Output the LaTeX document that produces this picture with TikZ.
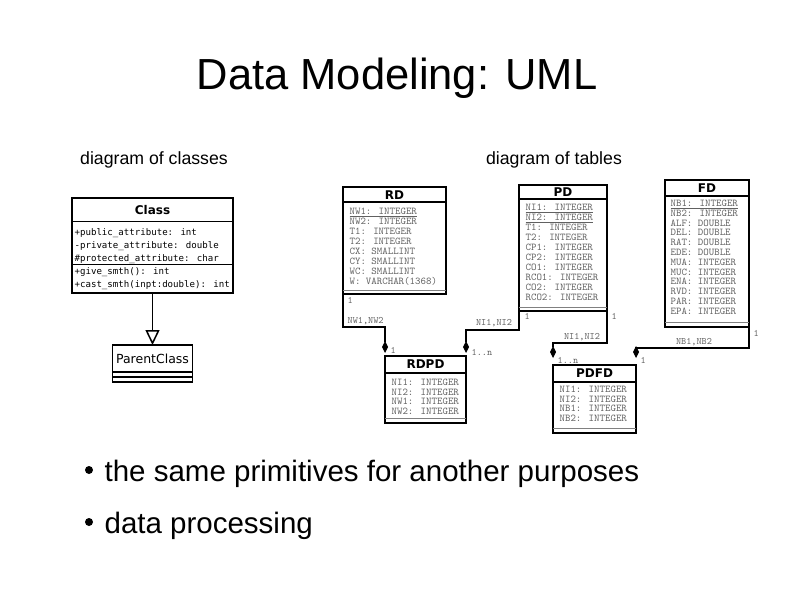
\documentclass[tikz,border=0pt]{standalone}
\usepackage{fontspec}
\setmainfont{Liberation Sans}
\newfontfamily\verafont{DejaVu Sans}
\newfontfamily\veramono{DejaVu Sans Mono}
\usetikzlibrary{positioning,arrows.meta,calc}
\definecolor{attgray}{gray}{0.38}
\tikzstyle{tbl}=[draw, line width=1.2pt, inner sep=0pt, outer sep=0pt, anchor=north west]
\tikzstyle{hd}=[font=\verafont\bfseries\fontsize{12}{12}\selectfont, inner sep=0pt]
\tikzstyle{att}=[font=\ttfamily\fontsize{10.4}{10}\selectfont, text=attgray, align=left, anchor=north west, inner sep=0pt]
\tikzstyle{lbl}=[font=\ttfamily\fontsize{9.8}{9.8}\selectfont, text=attgray, inner sep=0pt]
\tikzstyle{cls}=[font=\veramono\fontsize{9.1}{13}\selectfont, align=left, anchor=north west, inner sep=0pt]
\tikzstyle{conn}=[line width=1.1pt, -{Diamond[length=12pt,width=6pt]}]
\tikzstyle{dot}=[circle, fill, inner sep=0pt, minimum size=8pt]
\tikzstyle{item}=[font=\fontsize{29.5}{29.5}\selectfont, anchor=base west, inner sep=0pt]

\begin{document}
\begin{tikzpicture}[x=1pt, y=-1pt, line width=1.2pt]
	\useasboundingbox (0,0) rectangle (794,595);
	% headings
	\node[font=\fontsize{43.5}{43.5}\selectfont, anchor=base] (title) at (397,89) {Data Modeling: UML};
	\node[font=\fontsize{17.7}{17.7}\selectfont, anchor=base] (clsCap) at (154,164) {diagram of classes};
	\node[font=\fontsize{17.7}{17.7}\selectfont, anchor=base] (tblCap) at (554,164) {diagram of tables};
	
	% class diagram
	\node[tbl, minimum width=161pt, minimum height=95pt] (Class) at (72,198) {};
	\node[hd] (ClassName) at ($(Class.north)+(0,12)$) {Class};
	\draw ($(Class.north west)+(0,23.5)$) -- ($(Class.north east)+(0,23.5)$);
	\draw[line width=1.8pt] ($(Class.north west)+(0,66.5)$) -- ($(Class.north east)+(0,66.5)$);
	\node[cls] (ClassAtt) at (74,228) {+public\_attribute: int\\-private\_attribute: double\\\#protected\_attribute: char};
	\node[cls] (ClassOp) at (74,267) {+give\_smth(): int\\+cast\_smth(inpt:double): int};
	\node[tbl, minimum width=80pt, minimum height=37pt] (Parent) at (112.5,345) {};
	\node[font=\verafont\fontsize{12.5}{12.5}\selectfont, inner sep=0pt] (ParentName) at ($(Parent.north)+(0,13.5)$) {ParentClass};
	\draw ($(Parent.north west)+(0,27)$) -- ($(Parent.north east)+(0,27)$);
	\draw ($(Parent.north west)+(0,32)$) -- ($(Parent.north east)+(0,32)$);
	\draw[line width=1.5pt, -{Triangle[open,length=15pt,width=14pt]}] (Class.south) -- (Parent.north);
	
	% tables
	\node[tbl, minimum width=103pt, minimum height=107pt] (RD) at (343,187) {};
	\node[hd] (RDname) at ($(RD.north)+(0,8)$) {RD};
	\draw ($(RD.north west)+(0,15)$) -- ($(RD.north east)+(0,15)$);
	\draw[gray, line width=0.8pt] ($(RD.south west)+(0,-4)$) -- ($(RD.south east)+(0,-4)$);
	\node[att] (RDatt) at (349,207.5) {\underline{NW1: INTEGER}\\NW2: INTEGER\\T1: INTEGER\\T2: INTEGER\\CX: SMALLINT\\CY: SMALLINT\\WC: SMALLINT\\W: VARCHAR(1368)};
	
	\node[tbl, minimum width=88pt, minimum height=126pt] (PD) at (519,185) {};
	\node[hd] (PDname) at ($(PD.north)+(0,7)$) {PD};
	\draw ($(PD.north west)+(0,14)$) -- ($(PD.north east)+(0,14)$);
	\draw[gray, line width=0.8pt] ($(PD.south west)+(0,-4)$) -- ($(PD.south east)+(0,-4)$);
	\node[att] (PDatt) at (525,203.5) {\underline{NI1: INTEGER}\\\underline{NI2: INTEGER}\\T1: INTEGER\\T2: INTEGER\\CP1: INTEGER\\CP2: INTEGER\\CO1: INTEGER\\RCO1: INTEGER\\CO2: INTEGER\\RCO2: INTEGER};
	
	\node[tbl, minimum width=84pt, minimum height=147pt] (FD) at (665,180) {};
	\node[hd] (FDname) at ($(FD.north)+(0,8)$) {FD};
	\draw ($(FD.north west)+(0,16)$) -- ($(FD.north east)+(0,16)$);
	\draw[gray, line width=0.8pt] ($(FD.south west)+(0,-4.5)$) -- ($(FD.south east)+(0,-4.5)$);
	\node[att, font=\ttfamily\fontsize{10.4}{9.8}\selectfont] (FDatt) at (670,199.5) {\underline{NB1: INTEGER}\\NB2: INTEGER\\ALF: DOUBLE\\DEL: DOUBLE\\RAT: DOUBLE\\EDE: DOUBLE\\MUA: INTEGER\\MUC: INTEGER\\ENA: INTEGER\\RVD: INTEGER\\PAR: INTEGER\\EPA: INTEGER};
	
	\node[tbl, minimum width=81pt, minimum height=67pt] (RDPD) at (385,356) {};
	\node[hd] (RDPDname) at ($(RDPD.north)+(0,8.5)$) {RDPD};
	\draw ($(RDPD.north west)+(0,17)$) -- ($(RDPD.north east)+(0,17)$);
	\draw[gray, line width=0.8pt] ($(RDPD.south west)+(0,-5)$) -- ($(RDPD.south east)+(0,-5)$);
	\node[att, font=\ttfamily\fontsize{10.4}{9.5}\selectfont] (RDPDatt) at (391,378.5) {NI1: INTEGER\\NI2: INTEGER\\NW1: INTEGER\\NW2: INTEGER};
	
	\node[tbl, minimum width=83pt, minimum height=68pt] (PDFD) at (553,365) {};
	\node[hd] (PDFDname) at ($(PDFD.north)+(0,8.5)$) {PDFD};
	\draw ($(PDFD.north west)+(0,17)$) -- ($(PDFD.north east)+(0,17)$);
	\draw[gray, line width=0.8pt] ($(PDFD.south west)+(0,-5)$) -- ($(PDFD.south east)+(0,-5)$);
	\node[att, font=\ttfamily\fontsize{10.4}{9.6}\selectfont] (PDFDatt) at (559,385.5) {NI1: INTEGER\\NI2: INTEGER\\NB1: INTEGER\\NB2: INTEGER};
	
	% associations
	\draw[conn, shorten >=3pt] (RD.south west) -- ++(0,33) -| (RDPD.north west);
	\draw[conn, shorten >=3pt] (PD.south west) -- ++(0,19) -| (RDPD.north east);
	\draw[conn, shorten >=7pt] (PD.south east) -- ++(0,32) -| (PDFD.north west);
	\draw[conn, shorten >=7pt] (FD.south east) -- ++(0,21) -| (PDFD.north east);
	\node[lbl, anchor=west] (rdOne) at (347,300) {1};
	\node[lbl, anchor=west] (rdKey) at (347,321) {NW1,NW2};
	\node[lbl, anchor=west] (rdpdOne) at (390,350) {1};
	\node[lbl, anchor=west] (pdOneL) at (524,316) {1};
	\node[lbl] (pdKeyL) at (494,323) {NI1,NI2};
	\node[lbl, anchor=west] (rdpdMany) at (471,352) {1..n};
	\node[lbl, anchor=west] (pdOneR) at (611,316) {1};
	\node[lbl] (pdKeyR) at (582,337) {NI1,NI2};
	\node[lbl, anchor=west] (pdfdMany) at (557,360) {1..n};
	\node[lbl, anchor=west] (fdOne) at (753,333) {1};
	\node[lbl] (fdKey) at (694,342) {NB1,NB2};
	\node[lbl, anchor=west] (pdfdOne) at (640,360) {1};
	
	% bullets
	\node[dot] (dotA) at (89,470) {};
	\node[item] (itemA) at (104,481) {the same primitives for another purposes};
	\node[dot] (dotB) at (89,522) {};
	\node[item] (itemB) at (104,533) {data processing};
\end{tikzpicture}
\end{document}
